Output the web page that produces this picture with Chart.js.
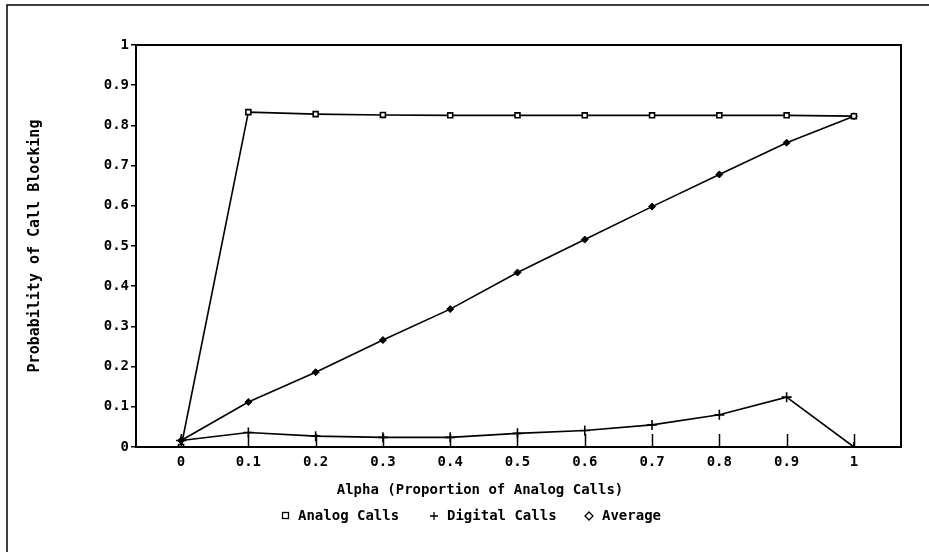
<!DOCTYPE html>
<html>
<head>
<meta charset="utf-8">
<script src="https://cdn.jsdelivr.net/npm/chart.js@4/dist/chart.umd.min.js"></script>
<style>
html,body{margin:0;padding:0;background:#fff;}
#wrap{width:929px;height:552px;position:relative;}
</style>
</head>
<body>
<div id="wrap"><canvas id="c" width="929" height="552"></canvas></div>
<script>
const alphaValues = [0, 0.1, 0.2, 0.3, 0.4, 0.5, 0.6, 0.7, 0.8, 0.9, 1];
const analogCalls = [0, 0.833, 0.828, 0.826, 0.825, 0.825, 0.825, 0.825, 0.825, 0.825, 0.823];
const digitalCalls = [0.016, 0.036, 0.027, 0.024, 0.024, 0.034, 0.041, 0.055, 0.080, 0.124, 0];
const averageCalls = [0.016, 0.112, 0.186, 0.266, 0.343, 0.434, 0.516, 0.598, 0.678, 0.757, 0.823];
const xTickValues = [0, 0.1, 0.2, 0.3, 0.4, 0.5, 0.6, 0.7, 0.8, 0.9, 1];
const yTickValues = [0, 0.1, 0.2, 0.3, 0.4, 0.5, 0.6, 0.7, 0.8, 0.9, 1];
const seriesNames = ['Analog Calls', 'Digital Calls', 'Average'];
const xTitle = 'Alpha (Proportion of Analog Calls)';
const yTitle = 'Probability of Call Blocking';

const FONT = '"DejaVu Sans Mono", "Liberation Mono", monospace';
const toPts = arr => alphaValues.map((x, i) => ({x: x, y: arr[i]}));
const fmt = v => (Math.round(v * 10) / 10).toString();

const decor = {
  id: 'decor',
  afterDraw(chart) {
    const ctx = chart.ctx;
    const a = chart.chartArea;
    const xs = chart.scales.x;
    ctx.save();
    ctx.strokeStyle = '#000';
    // outer frame
    ctx.lineWidth = 1.5;
    ctx.beginPath();
    ctx.moveTo(7, 552); ctx.lineTo(7, 5); ctx.lineTo(929, 5);
    ctx.stroke();
    // plot frame
    ctx.lineWidth = 2;
    ctx.strokeRect(a.left, a.top, a.right - a.left, a.bottom - a.top);
    // x ticks inside
    ctx.lineWidth = 1.5;
    xTickValues.forEach(v => {
      const px = Math.round(xs.getPixelForValue(v)) + 0.5;
      ctx.beginPath();
      ctx.moveTo(px, a.bottom);
      ctx.lineTo(px, a.bottom - 13);
      ctx.stroke();
    });
    // titles
    ctx.fillStyle = '#000';
    ctx.font = 'bold 14px ' + FONT;
    ctx.textAlign = 'center';
    ctx.textBaseline = 'middle';
    ctx.fillText(xTitle, 480, 490);
    ctx.save();
    ctx.translate(35, (a.top + a.bottom) / 2);
    ctx.rotate(-Math.PI / 2);
    ctx.font = 'bold 15px ' + FONT;
    ctx.fillText(yTitle, 0, 0);
    ctx.restore();
    // legend
    const ly = 516;
    ctx.font = 'bold 14px ' + FONT;
    ctx.textAlign = 'left';
    ctx.lineWidth = 1.3;
    // square
    ctx.strokeRect(282.5, ly - 3.5, 6, 6);
    ctx.fillText(seriesNames[0], 298, ly);
    // plus
    ctx.beginPath();
    ctx.moveTo(430, ly); ctx.lineTo(438, ly);
    ctx.moveTo(434, ly - 4); ctx.lineTo(434, ly + 4);
    ctx.stroke();
    ctx.fillText(seriesNames[1], 447, ly);
    // diamond
    ctx.beginPath();
    ctx.moveTo(589, ly - 4); ctx.lineTo(593, ly); ctx.lineTo(589, ly + 4); ctx.lineTo(585, ly);
    ctx.closePath();
    ctx.stroke();
    ctx.fillText(seriesNames[2], 602, ly);
    ctx.restore();
  }
};

new Chart(document.getElementById('c'), {
  type: 'scatter',
  data: {
    datasets: [
      {label: seriesNames[0], data: toPts(analogCalls), showLine: true, borderColor: '#000', borderWidth: 1.6,
       pointStyle: 'rect', pointRadius: 3.5, pointBackgroundColor: '#fff', pointBorderColor: '#000', pointBorderWidth: 1.6},
      {label: seriesNames[1], data: toPts(digitalCalls), showLine: true, borderColor: '#000', borderWidth: 1.6,
       pointStyle: 'cross', pointRadius: 5, pointBorderColor: '#000', pointBorderWidth: 1.6},
      {label: seriesNames[2], data: toPts(averageCalls), showLine: true, borderColor: '#000', borderWidth: 1.6,
       pointStyle: 'rectRot', pointRadius: 3.5, pointBackgroundColor: '#000', pointBorderColor: '#000', pointBorderWidth: 1}
    ]
  },
  options: {
    responsive: false,
    animation: false,
    layout: {padding: {left: 0, top: 45, right: 28, bottom: 85}},
    plugins: {legend: {display: false}, tooltip: {enabled: false}},
    scales: {
      x: {
        type: 'linear', min: -0.067, max: 1.07,
        afterBuildTicks: s => { s.ticks = xTickValues.map(v => ({value: v})); },
        afterFit: s => { s.height = 20; },
        grid: {display: false, drawTicks: false},
        border: {display: false},
        ticks: {color: '#000', font: {family: FONT, size: 14, weight: 'bold'}, padding: 7, callback: v => fmt(v), maxRotation: 0, autoSkip: false}
      },
      y: {
        type: 'linear', min: 0, max: 1,
        afterBuildTicks: s => { s.ticks = yTickValues.map(v => ({value: v})); },
        afterFit: s => { s.width = 136; },
        grid: {display: true, drawOnChartArea: false, drawTicks: true, tickLength: 5, color: '#000', lineWidth: 1.5},
        border: {display: false},
        ticks: {color: '#000', font: {family: FONT, size: 14, weight: 'bold'}, padding: 2, callback: v => fmt(v), autoSkip: false}
      }
    }
  },
  plugins: [decor]
});
</script>
</body>
</html>
